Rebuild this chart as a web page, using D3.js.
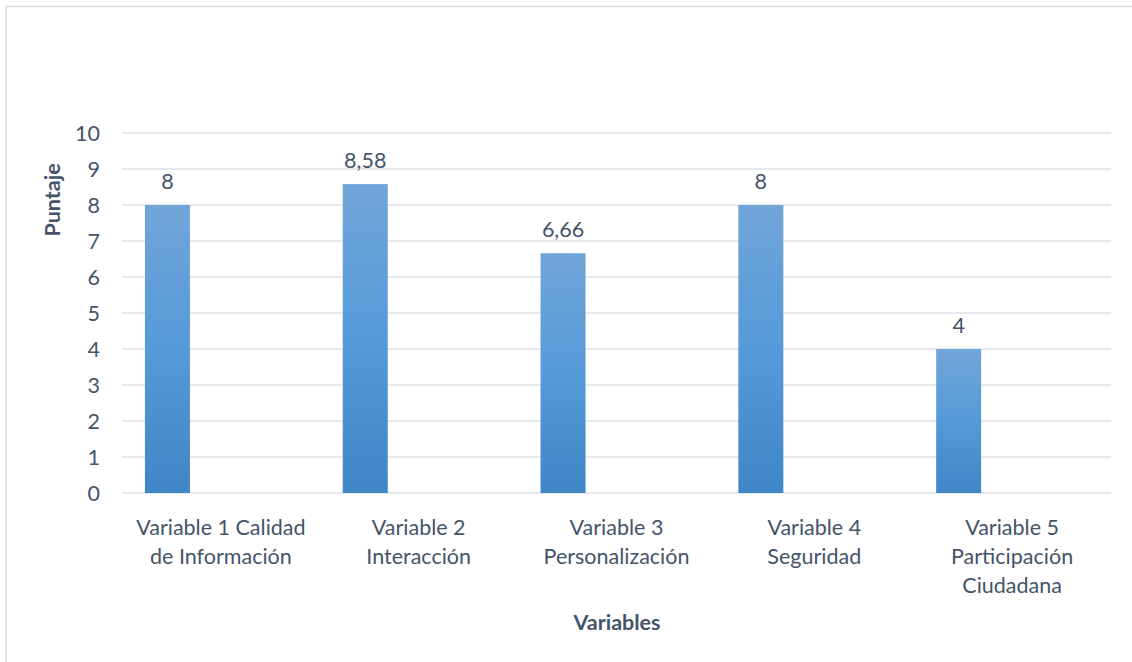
<!DOCTYPE html>
<html>
<head>
<meta charset="utf-8">
<script src="https://cdn.jsdelivr.net/npm/d3@7"></script>
<style>
  html, body { margin: 0; padding: 0; background: #fff; }
  svg { display: block; }
</style>
</head>
<body>
<svg id="chart" width="1132" height="662"></svg>
<script>
const categories = [
  "Variable 1 Calidad de Información",
  "Variable 2 Interacción",
  "Variable 3 Personalización",
  "Variable 4 Seguridad",
  "Variable 5 Participación Ciudadana"
];
const categoryLines = [
  ["Variable 1 Calidad", "de Información"],
  ["Variable 2", "Interacción"],
  ["Variable 3", "Personalización"],
  ["Variable 4", "Seguridad"],
  ["Variable 5", "Participación", "Ciudadana"]
];
const values = [8, 8.58, 6.66, 8, 4];
const valueLabels = ["8", "8,58", "6,66", "8", "4"];
const yTicks = [0, 1, 2, 3, 4, 5, 6, 7, 8, 9, 10];
const yTitle = "Puntaje";
const xTitle = "Variables";

const svg = d3.select("#chart");
const font = "Lato, 'Open Sans', sans-serif";
const fs = 21.5;
const textColor = "#44546a";

// outer border (top and left visible)
svg.append("path")
  .attr("d", "M6,662 L6,6.5 L1132,6.5")
  .attr("fill", "none")
  .attr("stroke", "#d9dde4")
  .attr("stroke-width", 1.5);

const x = d3.scaleBand().domain(categories).range([122, 1111]).paddingInner(0).paddingOuter(0);
const y = d3.scaleLinear().domain([0, 10]).range([493, 133]);

const defs = svg.append("defs");
const grad = defs.append("linearGradient").attr("id", "barGrad")
  .attr("x1", 0).attr("y1", 0).attr("x2", 0).attr("y2", 1);
grad.append("stop").attr("offset", "0%").attr("stop-color", "#71a5d8");
grad.append("stop").attr("offset", "50%").attr("stop-color", "#559ad9");
grad.append("stop").attr("offset", "100%").attr("stop-color", "#3f86c6");

// gridlines
svg.append("g")
  .selectAll("line")
  .data(yTicks)
  .join("line")
  .attr("x1", 122).attr("x2", 1111)
  .attr("y1", d => y(d)).attr("y2", d => y(d))
  .attr("stroke", "#dde1e7")
  .attr("stroke-width", 1.5);

// y axis labels
const yAxis = d3.axisLeft(y).tickValues(yTicks).tickSize(0).tickPadding(0).tickFormat(d3.format("d"));
const yg = svg.append("g").attr("transform", "translate(100,0)").call(yAxis);
yg.select(".domain").remove();
yg.selectAll("text")
  .attr("font-family", font)
  .attr("font-size", fs)
  .attr("fill", textColor)
  .attr("dy", "0.35em");

// bars
const bw = x.bandwidth();
svg.append("g")
  .selectAll("rect")
  .data(values)
  .join("rect")
  .attr("x", (d, i) => x(categories[i]) + bw * 0.116)
  .attr("width", bw * 0.2275)
  .attr("y", d => y(d))
  .attr("height", d => y(0) - y(d))
  .attr("fill", "url(#barGrad)");

// value labels
svg.append("g")
  .selectAll("text")
  .data(values)
  .join("text")
  .attr("x", (d, i) => x(categories[i]) + bw * 0.116 + bw * 0.2275 / 2)
  .attr("y", d => y(d) - 16)
  .attr("text-anchor", "middle")
  .attr("font-family", font)
  .attr("font-size", fs)
  .attr("fill", textColor)
  .text((d, i) => valueLabels[i]);

// category labels
const cg = svg.append("g");
categories.forEach((c, i) => {
  const t = cg.append("text")
    .attr("x", x(c) + bw / 2)
    .attr("y", 535)
    .attr("text-anchor", "middle")
    .attr("font-family", font)
    .attr("font-size", fs)
    .attr("fill", textColor);
  categoryLines[i].forEach((ln, j) => {
    t.append("tspan").attr("x", x(c) + bw / 2).attr("y", 535 + j * 29).text(ln);
  });
});

// axis titles
svg.append("text")
  .attr("transform", "translate(60,200) rotate(-90)")
  .attr("text-anchor", "middle")
  .attr("font-family", font)
  .attr("font-size", fs)
  .attr("font-weight", "bold")
  .attr("fill", textColor)
  .text(yTitle);

svg.append("text")
  .attr("x", 617)
  .attr("y", 630)
  .attr("text-anchor", "middle")
  .attr("font-family", font)
  .attr("font-size", fs)
  .attr("font-weight", "bold")
  .attr("fill", textColor)
  .text(xTitle);
</script>
</body>
</html>
